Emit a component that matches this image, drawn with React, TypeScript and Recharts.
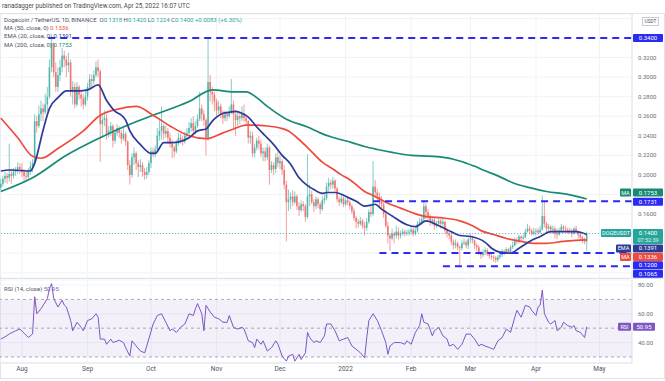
import { ComposedChart, Bar, Line, XAxis, YAxis, CartesianGrid, ReferenceLine, ReferenceArea } from 'recharts'

// DOGE/USDT daily candles, Jul 22 2021 (index 0) .. Apr 25 2022 (index 277)
const firstOpen = 0.187
const closes = [
    0.191, 0.196, 0.199, 0.197, 0.201, 0.199, 0.203, 0.204, 0.208, 0.206,
    0.203, 0.199, 0.198, 0.204, 0.209, 0.212, 0.255, 0.250, 0.262, 0.268,
    0.264, 0.272, 0.280, 0.310, 0.335, 0.305, 0.290, 0.302, 0.310, 0.322,
    0.318, 0.312, 0.315, 0.285, 0.290, 0.272, 0.290, 0.282, 0.278, 0.272,
    0.280, 0.290, 0.298, 0.296, 0.302, 0.310, 0.306, 0.252, 0.256, 0.258,
    0.242, 0.245, 0.250, 0.235, 0.243, 0.248, 0.243, 0.237, 0.242, 0.234,
    0.210, 0.200, 0.218, 0.222, 0.212, 0.208, 0.210, 0.203, 0.200, 0.203,
    0.212, 0.224, 0.222, 0.226, 0.240, 0.245, 0.250, 0.242, 0.245, 0.238,
    0.232, 0.228, 0.224, 0.232, 0.238, 0.236, 0.234, 0.240, 0.243, 0.248,
    0.253, 0.245, 0.250, 0.257, 0.268, 0.262, 0.256, 0.238, 0.295, 0.285,
    0.282, 0.275, 0.266, 0.270, 0.262, 0.258, 0.262, 0.260, 0.265, 0.272,
    0.262, 0.256, 0.260, 0.258, 0.263, 0.258, 0.255, 0.238, 0.240, 0.222,
    0.228, 0.235, 0.232, 0.222, 0.224, 0.218, 0.228, 0.205, 0.210, 0.206,
    0.218, 0.212, 0.214, 0.205, 0.190, 0.172, 0.175, 0.178, 0.172, 0.178,
    0.168, 0.164, 0.170, 0.168, 0.157, 0.178, 0.180, 0.172, 0.168, 0.175,
    0.170, 0.165, 0.174, 0.176, 0.188, 0.192, 0.190, 0.194, 0.186, 0.175,
    0.172, 0.176, 0.170, 0.174, 0.172, 0.168, 0.163, 0.156, 0.152, 0.150,
    0.153, 0.148, 0.146, 0.152, 0.162, 0.160, 0.188, 0.182, 0.178, 0.174,
    0.170, 0.160, 0.148, 0.138, 0.135, 0.140, 0.138, 0.142, 0.138, 0.140,
    0.142, 0.140, 0.141, 0.142, 0.144, 0.140, 0.143, 0.150, 0.152, 0.155,
    0.168, 0.162, 0.158, 0.152, 0.154, 0.148, 0.150, 0.153, 0.150, 0.152,
    0.143, 0.140, 0.138, 0.132, 0.128, 0.130, 0.126, 0.125, 0.130, 0.131,
    0.128, 0.134, 0.135, 0.133, 0.128, 0.126, 0.120, 0.118, 0.121, 0.123,
    0.119, 0.117, 0.116, 0.115, 0.113, 0.116, 0.118, 0.122, 0.120, 0.124,
    0.121, 0.126, 0.128, 0.133, 0.132, 0.137, 0.135, 0.136, 0.142, 0.145,
    0.143, 0.140, 0.142, 0.143, 0.141, 0.144, 0.158, 0.150, 0.145, 0.147,
    0.144, 0.145, 0.140, 0.139, 0.143, 0.147, 0.145, 0.144, 0.143, 0.142,
    0.140, 0.145, 0.142, 0.139, 0.136, 0.134, 0.1318, 0.1400,
]
const highs = [
    0.196, 0.199, 0.203, 0.202, 0.232, 0.205, 0.207, 0.208, 0.213, 0.212,
    0.212, 0.206, 0.205, 0.207, 0.214, 0.216, 0.262, 0.260, 0.271, 0.276,
    0.273, 0.283, 0.290, 0.318, 0.341, 0.335, 0.315, 0.310, 0.318, 0.330,
    0.327, 0.322, 0.325, 0.318, 0.296, 0.294, 0.295, 0.292, 0.286, 0.283,
    0.286, 0.294, 0.303, 0.303, 0.307, 0.316, 0.318, 0.308, 0.262, 0.266,
    0.262, 0.250, 0.254, 0.252, 0.247, 0.252, 0.250, 0.246, 0.248, 0.244,
    0.235, 0.215, 0.222, 0.228, 0.224, 0.215, 0.216, 0.213, 0.207, 0.208,
    0.215, 0.228, 0.228, 0.230, 0.248, 0.258, 0.270, 0.252, 0.250, 0.248,
    0.243, 0.236, 0.230, 0.236, 0.243, 0.242, 0.240, 0.244, 0.248, 0.254,
    0.258, 0.260, 0.255, 0.262, 0.285, 0.272, 0.266, 0.258, 0.341, 0.302,
    0.290, 0.285, 0.278, 0.276, 0.273, 0.266, 0.266, 0.265, 0.270, 0.298,
    0.276, 0.266, 0.265, 0.264, 0.270, 0.272, 0.262, 0.256, 0.245, 0.244,
    0.232, 0.238, 0.240, 0.236, 0.228, 0.228, 0.232, 0.230, 0.214, 0.213,
    0.222, 0.224, 0.220, 0.216, 0.210, 0.194, 0.185, 0.182, 0.184, 0.183,
    0.180, 0.172, 0.174, 0.173, 0.170, 0.221, 0.190, 0.184, 0.175, 0.178,
    0.177, 0.172, 0.178, 0.180, 0.192, 0.197, 0.195, 0.198, 0.196, 0.188,
    0.178, 0.180, 0.178, 0.176, 0.176, 0.174, 0.170, 0.166, 0.158, 0.155,
    0.157, 0.155, 0.152, 0.156, 0.165, 0.168, 0.214, 0.195, 0.186, 0.182,
    0.178, 0.172, 0.164, 0.152, 0.140, 0.145, 0.142, 0.148, 0.146, 0.143,
    0.145, 0.144, 0.144, 0.145, 0.147, 0.146, 0.146, 0.153, 0.156, 0.158,
    0.173, 0.171, 0.165, 0.160, 0.157, 0.156, 0.153, 0.156, 0.155, 0.155,
    0.153, 0.145, 0.142, 0.140, 0.134, 0.134, 0.132, 0.128, 0.133, 0.135,
    0.133, 0.136, 0.140, 0.138, 0.134, 0.130, 0.128, 0.122, 0.124, 0.126,
    0.125, 0.121, 0.119, 0.118, 0.117, 0.118, 0.120, 0.124, 0.124, 0.126,
    0.125, 0.128, 0.132, 0.136, 0.136, 0.139, 0.138, 0.139, 0.145, 0.150,
    0.148, 0.145, 0.146, 0.145, 0.146, 0.148, 0.179, 0.173, 0.152, 0.150,
    0.149, 0.148, 0.147, 0.145, 0.146, 0.150, 0.149, 0.148, 0.146, 0.146,
    0.145, 0.147, 0.148, 0.143, 0.140, 0.138, 0.136, 0.1420,
]
const lows = [
    0.184, 0.188, 0.192, 0.191, 0.193, 0.191, 0.196, 0.199, 0.201, 0.201,
    0.198, 0.193, 0.194, 0.196, 0.200, 0.203, 0.210, 0.243, 0.248, 0.255,
    0.255, 0.262, 0.265, 0.278, 0.305, 0.300, 0.285, 0.285, 0.296, 0.305,
    0.310, 0.300, 0.305, 0.280, 0.272, 0.268, 0.270, 0.277, 0.270, 0.267,
    0.270, 0.276, 0.287, 0.290, 0.292, 0.300, 0.300, 0.213, 0.240, 0.250,
    0.236, 0.238, 0.240, 0.228, 0.232, 0.240, 0.238, 0.232, 0.235, 0.230,
    0.205, 0.190, 0.197, 0.210, 0.205, 0.198, 0.203, 0.198, 0.195, 0.196,
    0.200, 0.207, 0.218, 0.218, 0.224, 0.235, 0.236, 0.236, 0.238, 0.232,
    0.228, 0.217, 0.218, 0.222, 0.230, 0.232, 0.230, 0.232, 0.236, 0.240,
    0.244, 0.240, 0.242, 0.248, 0.255, 0.255, 0.250, 0.220, 0.235, 0.275,
    0.272, 0.265, 0.260, 0.262, 0.258, 0.252, 0.255, 0.255, 0.258, 0.262,
    0.248, 0.240, 0.250, 0.252, 0.255, 0.254, 0.250, 0.232, 0.232, 0.218,
    0.218, 0.225, 0.226, 0.218, 0.214, 0.214, 0.215, 0.190, 0.202, 0.200,
    0.202, 0.208, 0.206, 0.200, 0.185, 0.132, 0.163, 0.165, 0.168, 0.170,
    0.164, 0.158, 0.162, 0.163, 0.152, 0.155, 0.168, 0.170, 0.162, 0.165,
    0.166, 0.160, 0.163, 0.170, 0.174, 0.183, 0.185, 0.186, 0.183, 0.172,
    0.168, 0.170, 0.167, 0.168, 0.169, 0.165, 0.160, 0.153, 0.145, 0.146,
    0.148, 0.145, 0.138, 0.143, 0.150, 0.157, 0.158, 0.177, 0.173, 0.168,
    0.165, 0.156, 0.146, 0.130, 0.122, 0.133, 0.130, 0.135, 0.134, 0.135,
    0.138, 0.137, 0.138, 0.138, 0.139, 0.137, 0.138, 0.141, 0.148, 0.149,
    0.153, 0.155, 0.153, 0.148, 0.149, 0.144, 0.146, 0.148, 0.145, 0.147,
    0.140, 0.136, 0.134, 0.128, 0.124, 0.125, 0.123, 0.107, 0.123, 0.128,
    0.125, 0.124, 0.130, 0.130, 0.124, 0.122, 0.118, 0.114, 0.116, 0.118,
    0.117, 0.114, 0.113, 0.111, 0.110, 0.111, 0.114, 0.116, 0.118, 0.119,
    0.119, 0.120, 0.124, 0.127, 0.129, 0.130, 0.132, 0.133, 0.135, 0.141,
    0.140, 0.138, 0.138, 0.138, 0.139, 0.140, 0.143, 0.146, 0.140, 0.141,
    0.141, 0.140, 0.135, 0.134, 0.138, 0.141, 0.141, 0.142, 0.140, 0.140,
    0.136, 0.139, 0.140, 0.135, 0.133, 0.130, 0.129, 0.1224,
]

// moving averages: [day index, value]
const ema20: [number, number][] = [
    [0, 0.204], [4, 0.205], [14, 0.204], [16, 0.212], [20, 0.246], [23, 0.268], [27, 0.279], [31, 0.286],
    [37, 0.286], [41, 0.287], [46, 0.292], [50, 0.276], [54, 0.265], [57, 0.261], [59, 0.256], [61, 0.245],
    [66, 0.231], [71, 0.222], [73, 0.222], [77, 0.233], [81, 0.233], [89, 0.238], [93, 0.245], [97, 0.247],
    [100, 0.255], [102, 0.259], [105, 0.263], [108, 0.264], [111, 0.265], [114, 0.263], [117, 0.259], [121, 0.249],
    [125, 0.24], [129, 0.231], [133, 0.22], [137, 0.211], [141, 0.197], [145, 0.189], [148, 0.185], [152, 0.181],
    [154, 0.182], [158, 0.182], [164, 0.177], [168, 0.173], [172, 0.168], [175, 0.169], [177, 0.17], [180, 0.165],
    [185, 0.158], [192, 0.149], [196, 0.147], [201, 0.153], [206, 0.149], [211, 0.144], [217, 0.138], [222, 0.137],
    [229, 0.131], [232, 0.125], [236, 0.121], [241, 0.12], [245, 0.125], [250, 0.132], [255, 0.137], [260, 0.142],
    [266, 0.142], [272, 0.142], [277, 0.1391],
]
const ma50: [number, number][] = [
    [0, 0.258], [8, 0.238], [15, 0.219], [19, 0.217], [27, 0.227], [39, 0.245], [47, 0.261], [57, 0.268],
    [64, 0.27], [72, 0.261], [80, 0.25], [89, 0.24], [97, 0.237], [105, 0.243], [110, 0.247], [116, 0.251],
    [120, 0.251], [126, 0.25], [132, 0.248], [136, 0.245], [140, 0.238], [145, 0.228], [152, 0.213], [157, 0.206],
    [161, 0.2], [165, 0.195], [168, 0.19], [172, 0.183], [176, 0.179], [183, 0.171], [189, 0.166], [195, 0.161],
    [202, 0.157], [209, 0.156], [217, 0.153], [223, 0.148], [227, 0.143], [233, 0.139], [239, 0.135], [246, 0.132],
    [252, 0.13], [258, 0.13], [266, 0.132], [272, 0.133], [277, 0.1336],
]
const ma200: [number, number][] = [
    [0, 0.183], [15, 0.197], [31, 0.22], [47, 0.238], [59, 0.25], [72, 0.261], [89, 0.275], [100, 0.287],
    [110, 0.285], [116, 0.285], [121, 0.279], [126, 0.27], [135, 0.257], [145, 0.249], [151, 0.243], [156, 0.239],
    [166, 0.233], [172, 0.229], [178, 0.226], [185, 0.223], [194, 0.22], [204, 0.219], [214, 0.216], [220, 0.212],
    [225, 0.208], [228, 0.205], [235, 0.199], [242, 0.192], [250, 0.187], [258, 0.183], [268, 0.18], [277, 0.1753],
]
const rsi14: [number, number][] = [
    [0, 42.4], [2, 44], [4, 46], [7, 48.2], [9, 49.4], [11, 46.5], [13, 43.5], [15, 46], [16, 71.8], [17, 60],
    [19, 63.5], [20, 65.9], [22, 70.6], [23, 77.6], [24, 81], [25, 70.6], [27, 64.7], [29, 69.4], [30, 66], [31, 64.7],
    [33, 55.3], [34, 48.2], [36, 54.1], [38, 50.6], [39, 48.2], [41, 55.3], [43, 56.5], [45, 60], [46, 57.6], [47, 42.4],
    [49, 42.4], [50, 38.8], [52, 42.4], [53, 40], [56, 41.6], [58, 40], [59, 36.5], [61, 30.6], [62, 41.2], [64, 37.6],
    [66, 34.1], [68, 32.9], [69, 37.6], [72, 52.9], [74, 58.8], [76, 60], [78, 54.1], [80, 48.2], [81, 49.4], [83, 47.1],
    [85, 50.6], [87, 52.9], [89, 60], [91, 58.8], [92, 63.5], [93, 67.1], [95, 60], [96, 48.2], [97, 65.9], [99, 61.2],
    [101, 57.6], [103, 56.5], [105, 54.1], [107, 54], [108, 58.8], [110, 50.6], [112, 49.4], [114, 50.6], [115, 49.4], [117, 41.2],
    [119, 40], [120, 36.5], [121, 42.4], [123, 38.8], [124, 41.2], [126, 34.1], [128, 36.5], [130, 41.2], [131, 38.8], [133, 30.6],
    [135, 27.1], [136, 30.6], [138, 31.8], [139, 27.1], [141, 31.8], [142, 28.2], [144, 32.9], [145, 47.1], [146, 43.5], [148, 40],
    [149, 41.2], [151, 40], [153, 44.7], [154, 52.9], [156, 52.9], [158, 48.2], [160, 41.2], [162, 42.4], [164, 43.5], [166, 37.6],
    [168, 35.3], [170, 32.9], [172, 29.4], [173, 43.5], [174, 55.3], [176, 60], [178, 55.3], [180, 48.2], [182, 40], [183, 31.8],
    [184, 37.6], [186, 40], [189, 40], [191, 38.8], [192, 41.2], [194, 38.8], [196, 47.1], [198, 51.8], [199, 60], [200, 54.1],
    [202, 52.9], [204, 44.7], [205, 48.2], [207, 50.6], [209, 44.7], [211, 42.4], [212, 37.6], [214, 38.8], [216, 35.3], [218, 38.8],
    [220, 45.9], [222, 45.9], [224, 42.4], [226, 37.6], [227, 38.8], [229, 37.6], [231, 36.5], [233, 35.3], [235, 41.2], [237, 43.5],
    [239, 49.4], [241, 47.1], [243, 57.6], [244, 62.4], [246, 57.6], [248, 65.9], [250, 64.7], [251, 62.4], [253, 58.8], [254, 64.7],
    [255, 65.9], [256, 76.5], [257, 60], [259, 54.1], [260, 52.9], [262, 55.3], [263, 48.2], [265, 50.6], [266, 54.1], [268, 51.8],
    [270, 50.6], [271, 51.8], [272, 48.2], [274, 47.1], [276, 43.5], [277, 50.95],
]

const monthTicks = [10, 41, 71, 102, 132, 163, 194, 222, 253, 283]
const monthLabels = ['Aug', 'Sep', 'Oct', 'Nov', 'Dec', '2022', 'Feb', 'Mar', 'Apr', 'May']
const priceTicks = [0.1, 0.12, 0.14, 0.16, 0.18, 0.2, 0.22, 0.24, 0.26, 0.28, 0.3, 0.32, 0.34, 0.36]
// these tick labels sit under the coloured price tags (or the USDT box)
const coveredTicks = [0.1, 0.12, 0.14, 0.18, 0.34, 0.36]
const rsiTicks = [40, 60, 80]

// horizontal levels drawn by the author: price and first day
const levelPrices = [0.34, 0.1731, 0.12, 0.1065]
const levelStarts = [22.4, 176, 179, 209]

const xDomain = [-0.4, 298.4]
const BLUE = '#2a2af2'
const UP = '#26a69a'
const DOWN = '#ef5350'
const EMA_C = '#2c3b96'
const MA50_C = '#ef4a3c'
const MA200_C = '#168a74'
const RSI_C = '#7e57c2'

const rows: any[] = closes.map((c, i) => ({
    i,
    open: i === 0 ? firstOpen : closes[i - 1],
    close: c,
    high: highs[i],
    low: lows[i],
    range: [lows[i], highs[i]],
}))
ema20.forEach(([d, v]) => (rows[d].ema = v))
ma50.forEach(([d, v]) => (rows[d].ma50 = v))
ma200.forEach(([d, v]) => (rows[d].ma200 = v))

const rsiRows = rsi14.map(([i, v]) => ({ i, rsi: v }))

function Candle(props: any) {
    const { x, y, width, height, payload } = props
    if (!payload) return <g />
    const { open, close, high, low } = payload
    const top = Math.min(y, y + height)
    const h = Math.abs(height)
    const k = h / (high - low)
    const yOf = (v: number) => top + (high - v) * k
    const color = close >= open ? UP : DOWN
    const cx = x + width / 2
    const b1 = yOf(Math.max(open, close))
    const b2 = yOf(Math.min(open, close))
    return (
        <g opacity={0.8}>
            <line x1={cx} x2={cx} y1={top} y2={top + h} stroke={color} strokeWidth={0.7} />
            <rect x={cx - 0.8} y={b1} width={1.6} height={Math.max(b2 - b1, 0.7)} fill={color} />
        </g>
    )
}

function PriceTick(props: any) {
    const v = props.payload.value
    if (coveredTicks.includes(v)) return <g />
    return (
        <text x={props.x} y={props.y} dy={2} fontSize={6} fill="#6a6d78" textAnchor="start">
            {v.toFixed(4)}
        </text>
    )
}

function RsiTick(props: any) {
    return (
        <text x={props.x} y={props.y} dy={2} fontSize={6} fill="#6a6d78" textAnchor="start">
            {props.payload.value.toFixed(2)}
        </text>
    )
}

interface TagSpec {
    text: string
    bg: string
    shift?: number
    sub?: string
    side?: string
    sideW?: number
    w?: number
}

function makeTag(spec: TagSpec) {
    return (props: any) => {
        const vb = props.viewBox
        if (!vb) return null
        const axisX = vb.x + vb.width
        const cy = vb.y + (spec.shift ?? 0)
        const w = spec.w ?? 30
        const h = spec.sub ? 15 : 8
        const top = spec.sub ? cy - 4.5 : cy - 4
        const sw = spec.sideW ?? 12
        return (
            <g>
                {spec.side && (
                    <g>
                        <rect x={axisX - 1 - sw} y={top} width={sw} height={8} fill={spec.bg} rx={1} />
                        <text x={axisX - 1 - sw / 2} y={top + 6} fontSize={5.5} fill="#fff" textAnchor="middle">
                            {spec.side}
                        </text>
                    </g>
                )}
                <rect x={axisX + 1} y={top} width={w} height={h} fill={spec.bg} rx={1} />
                <text x={axisX + 1 + w / 2} y={top + 6} fontSize={6} fill="#fff" textAnchor="middle">
                    {spec.text}
                </text>
                {spec.sub && (
                    <text x={axisX + 1 + w / 2} y={top + 13} fontSize={5.5} fill="#fff" textAnchor="middle" opacity={0.85}>
                        {spec.sub}
                    </text>
                )}
            </g>
        )
    }
}

const legendLine: React.CSSProperties = {
    position: 'absolute',
    left: 4,
    fontSize: 6,
    lineHeight: '7px',
    color: '#50535e',
    whiteSpace: 'nowrap',
}

export default function App() {
    return (
        <div
            style={{
                position: 'absolute',
                left: 0,
                top: 0,
                width: 665,
                height: 381,
                background: '#fff',
                overflow: 'hidden',
                fontFamily: 'Roboto, "Liberation Sans", sans-serif',
            }}
        >
            <div style={{ position: 'absolute', left: 2, top: 2, fontSize: 6.3, lineHeight: '8px', color: '#4a4a4a', whiteSpace: 'nowrap' }}>
                ranadagger published on TradingView.com, Apr 25, 2022 16:07 UTC
            </div>
            <div style={{ position: 'absolute', left: 0, top: 13, width: 663, height: 364, border: '1px solid #e0e3eb' }} />

            <div style={{ position: 'absolute', left: 0, top: 14 }}>
                <ComposedChart width={665} height={264} data={rows} margin={{ top: 0, right: 0, bottom: 0, left: 0 }}>
                    <CartesianGrid stroke="#f0f3fa" />
                    <XAxis dataKey="i" type="number" domain={xDomain} ticks={monthTicks} interval={0} hide allowDataOverflow />
                    <YAxis
                        orientation="right"
                        width={33}
                        domain={[0.09455, 0.36455]}
                        ticks={priceTicks}
                        interval={0}
                        tick={PriceTick}
                        tickLine={false}
                        tickSize={0}
                        tickMargin={6}
                        axisLine={{ stroke: '#e0e3eb' }}
                        allowDataOverflow
                    />
                    <Bar dataKey="range" shape={Candle} barSize={2} isAnimationActive={false} />
                    <Line dataKey="ma200" type="monotone" stroke={MA200_C} strokeWidth={1.7} dot={false} connectNulls isAnimationActive={false} />
                    <Line dataKey="ma50" type="monotone" stroke={MA50_C} strokeWidth={1.7} dot={false} connectNulls isAnimationActive={false} />
                    <Line dataKey="ema" type="monotone" stroke={EMA_C} strokeWidth={1.7} dot={false} connectNulls isAnimationActive={false} />
                    {levelPrices.map((p, k) => (
                        <ReferenceLine
                            key={p}
                            segment={[{ x: levelStarts[k], y: p }, { x: xDomain[1], y: p }]}
                            stroke={BLUE}
                            strokeWidth={2}
                            strokeDasharray="7 5"
                            ifOverflow="visible"
                        />
                    ))}
                    <ReferenceLine y={0.14} stroke={UP} strokeDasharray="1 2" strokeOpacity={0.7}
                        label={makeTag({ text: '0.1400', sub: '07:52:39', bg: UP, side: 'DOGEUSDT', sideW: 30 })} />
                    <ReferenceLine y={0.34} stroke="none" label={makeTag({ text: '0.3400', bg: BLUE })} />
                    <ReferenceLine y={0.1753} stroke="none" label={makeTag({ text: '0.1753', bg: MA200_C, shift: -6.5, side: 'MA', sideW: 11 })} />
                    <ReferenceLine y={0.1731} stroke="none" label={makeTag({ text: '0.1731', bg: BLUE, shift: 0.5 })} />
                    <ReferenceLine y={0.1391} stroke="none" label={makeTag({ text: '0.1391', bg: EMA_C, shift: 14, side: 'EMA', sideW: 15 })} />
                    <ReferenceLine y={0.1336} stroke="none" label={makeTag({ text: '0.1336', bg: MA50_C, shift: 17.2, side: 'MA', sideW: 11 })} />
                    <ReferenceLine y={0.12} stroke="none" label={makeTag({ text: '0.1200', bg: BLUE, shift: 12.2 })} />
                    <ReferenceLine y={0.1065} stroke="none" label={makeTag({ text: '0.1065', bg: BLUE, shift: 7.4 })} />
                </ComposedChart>
            </div>

            <div style={{ ...legendLine, top: 16 }}>
                Dogecoin / TetherUS, 1D, BINANCE&nbsp;&nbsp;O<span style={{ color: UP }}>0.1318</span> H<span style={{ color: UP }}>0.1420</span> L
                <span style={{ color: UP }}>0.1224</span> C<span style={{ color: UP }}>0.1400</span> <span style={{ color: UP }}>+0.0083 (+6.30%)</span>
            </div>
            <div style={{ ...legendLine, top: 23.5 }}>
                MA (50, close, 0) <span style={{ color: MA50_C }}>0.1336</span>
            </div>
            <div style={{ ...legendLine, top: 32 }}>
                EMA (20, close, 0) <span style={{ color: EMA_C }}>0.1391</span>
            </div>
            <div style={{ ...legendLine, top: 40.5 }}>
                MA (200, close, 0) <span style={{ color: MA200_C }}>0.1753</span>
            </div>
            <div
                style={{
                    position: 'absolute',
                    left: 642,
                    top: 17,
                    width: 15,
                    height: 7,
                    border: '1px solid #c8cad0',
                    background: '#fff',
                    fontSize: 4.8,
                    lineHeight: '7px',
                    textAlign: 'center',
                    color: '#50535e',
                }}
            >
                USDT
            </div>

            <div style={{ position: 'absolute', left: 0, top: 278, width: 665, height: 1, background: '#e0e3eb' }} />

            <div style={{ position: 'absolute', left: 0, top: 279 }}>
                <ComposedChart width={665} height={98} data={rsiRows} margin={{ top: 1, right: 0, bottom: 0, left: 0 }}>
                    <CartesianGrid stroke="#f0f3fa" />
                    <ReferenceArea y1={30} y2={70} fill={RSI_C} fillOpacity={0.09} stroke="none" />
                    <XAxis
                        dataKey="i"
                        type="number"
                        domain={xDomain}
                        ticks={monthTicks}
                        interval={0}
                        tickFormatter={(v: number) => monthLabels[monthTicks.indexOf(v)]}
                        height={14}
                        tickLine={false}
                        tickSize={0}
                        tickMargin={3}
                        axisLine={{ stroke: '#e0e3eb' }}
                        tick={{ fontSize: 6.5, fill: '#50535e' }}
                        allowDataOverflow
                    />
                    <YAxis
                        orientation="right"
                        width={33}
                        domain={[25.8, 83.47]}
                        ticks={rsiTicks}
                        interval={0}
                        tick={RsiTick}
                        tickLine={false}
                        tickSize={0}
                        tickMargin={6}
                        axisLine={{ stroke: '#e0e3eb' }}
                        allowDataOverflow
                    />
                    <ReferenceLine y={70} stroke="#9598a1" strokeDasharray="3 3" strokeWidth={0.8} />
                    <ReferenceLine y={50} stroke="#9598a1" strokeDasharray="3 3" strokeWidth={0.8} />
                    <ReferenceLine y={30} stroke="#9598a1" strokeDasharray="3 3" strokeWidth={0.8} />
                    <Line dataKey="rsi" type="linear" stroke={RSI_C} strokeWidth={1} dot={false} isAnimationActive={false} />
                    <ReferenceLine y={50.95} stroke="none" label={makeTag({ text: '50.95', bg: RSI_C, side: 'RSI', sideW: 13, w: 22 })} />
                </ComposedChart>
            </div>

            <div style={{ ...legendLine, top: 284.5 }}>
                RSI (14, close) <span style={{ color: RSI_C }}>50.95</span>
            </div>
        </div>
    )
}
